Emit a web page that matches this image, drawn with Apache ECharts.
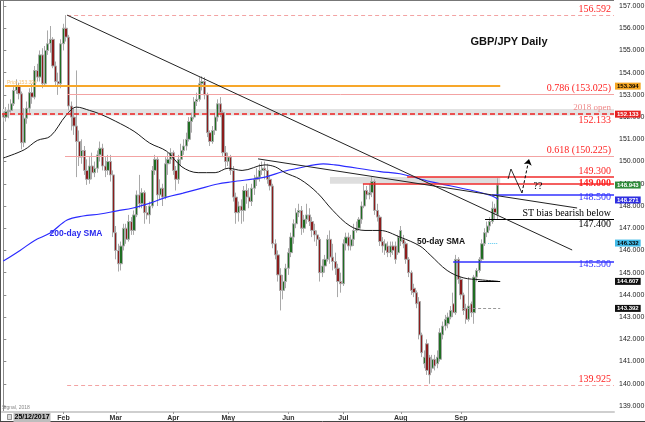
<!DOCTYPE html>
<html><head><meta charset="utf-8">
<script src="https://cdn.jsdelivr.net/npm/echarts/dist/echarts.min.js"></script>
<style>html,body{margin:0;padding:0;background:#fff}#c{width:645px;height:422px}</style>
</head><body><div id="c"></div>
<script>
// ---- data ----
const startDate = '2018-01-01';
const totalSlots = 234;
const monthNames = ['Jan','Feb','Mar','Apr','May','Jun','Jul','Aug','Sep','Oct','Nov','Dec'];
// [open, close, low, high]
const candles = [
[152.10,152.00,151.80,152.25],[152.00,152.25,151.80,152.45],[152.25,152.30,151.95,152.60],[152.30,152.60,152.20,152.80],
[152.60,153.20,152.50,153.45],[153.20,153.40,153.05,153.70],[153.40,153.05,152.80,153.55],[153.05,150.85,150.55,153.15],
[150.85,151.95,150.65,152.40],[151.95,152.40,151.70,152.70],[152.40,153.10,152.20,153.30],[153.10,152.90,152.60,153.50],
[152.90,154.10,152.80,154.30],[154.10,153.80,153.60,154.40],[153.80,154.80,153.60,155.00],[154.80,153.50,153.30,155.10],
[153.50,155.00,153.40,155.20],[155.00,155.30,154.80,155.90],[155.30,155.50,154.90,156.10],[155.50,154.30,154.20,155.60],
[154.30,153.60,153.40,154.50],[153.60,153.50,153.00,154.00],[153.50,155.30,153.30,155.50],[155.30,156.00,155.00,156.20],
[156.00,155.60,155.40,156.59],[155.60,152.50,152.30,155.70],[152.50,152.00,151.40,152.70],[152.00,151.60,151.20,152.40],
[151.60,150.90,149.30,154.10],[150.90,150.20,149.80,151.40],[150.20,150.50,149.90,151.00],[150.50,149.60,149.40,150.70],
[149.60,149.20,148.95,150.10],[149.20,149.80,149.00,150.20],[149.80,149.50,149.20,150.40],[149.50,149.70,149.30,150.00],
[149.70,150.30,149.50,150.50],[150.30,150.60,150.00,150.90],[150.60,149.80,149.60,150.80],[149.80,149.60,149.30,150.20],
[149.60,150.00,149.40,150.30],[150.00,149.40,149.10,150.30],[149.40,146.80,146.60,149.60],[146.80,146.00,145.60,147.10],
[146.00,145.40,145.05,146.30],[145.40,146.20,145.10,146.40],[146.20,147.00,146.00,147.20],[147.00,146.50,146.30,147.20],
[146.50,147.30,146.40,147.60],[147.30,146.90,146.70,147.50],[146.90,147.60,146.70,147.80],[147.60,148.50,147.50,148.70],
[148.50,148.10,147.90,149.40],[148.10,148.60,147.90,148.80],[148.60,147.70,147.20,148.70],[147.70,147.60,147.40,148.00],
[147.60,148.00,147.20,148.20],[148.00,149.60,147.90,149.80],[149.60,150.10,149.40,150.30],[150.10,148.50,148.00,150.20],
[148.50,148.80,148.30,149.20],[148.80,148.40,148.00,149.00],[148.40,149.90,148.30,150.20],[149.90,150.10,149.40,150.40],
[150.10,150.40,149.90,150.60],[150.40,149.60,149.40,150.50],[149.60,149.20,148.70,149.80],[149.20,150.10,149.00,150.30],
[150.10,150.50,149.80,150.80],[150.50,150.70,150.30,151.00],[150.70,151.00,150.50,151.30],[151.00,151.80,150.90,152.00],
[151.80,152.00,151.30,152.20],[152.00,152.70,151.90,152.90],[152.70,152.80,152.50,153.10],[152.80,153.50,152.70,153.80],
[153.50,153.60,153.20,153.84],[153.60,153.00,152.80,153.80],[153.00,151.30,151.10,153.10],[151.30,150.90,150.70,151.40],
[150.90,151.40,150.80,151.60],[151.40,152.00,151.20,152.20],[152.00,152.60,151.80,152.80],[152.60,152.20,152.00,152.90],
[152.20,150.40,150.20,152.30],[150.40,150.00,149.70,150.70],[150.00,150.20,149.80,150.40],[150.20,149.60,149.40,150.30],
[149.60,148.40,148.20,149.80],[148.40,147.70,147.20,148.60],[147.70,148.00,147.30,148.20],[148.00,147.80,147.20,148.30],
[147.80,148.70,147.30,148.90],[148.70,148.40,148.10,149.00],[148.40,148.20,147.90,148.80],[148.20,148.80,148.00,149.00],
[148.80,149.20,148.50,149.40],[149.20,149.30,148.90,149.70],[149.30,149.60,149.10,149.90],[149.60,149.70,149.40,150.00],
[149.70,149.60,149.20,150.00],[149.60,149.20,149.00,149.90],[149.20,148.90,148.70,149.40],[148.90,146.30,146.10,149.00],
[146.30,145.80,145.60,146.50],[145.80,144.90,144.60,146.00],[144.90,144.20,143.30,145.20],[144.20,144.60,143.80,144.90],
[144.60,145.20,144.30,145.40],[145.20,145.90,144.90,146.10],[145.90,146.60,145.70,146.80],[146.60,147.20,146.30,147.40],
[147.20,147.70,147.00,147.90],[147.70,147.80,147.50,148.10],[147.80,147.00,146.70,148.00],[147.00,147.40,146.80,147.60],
[147.40,147.60,147.20,148.10],[147.60,147.30,147.10,147.90],[147.30,146.90,146.60,147.50],[146.90,146.70,146.40,147.20],
[146.70,146.50,146.20,146.90],[146.50,145.00,144.60,146.60],[145.00,145.30,144.80,145.60],[145.30,145.60,145.00,145.80],
[145.60,146.50,145.50,146.70],[146.50,145.70,145.40,146.90],[145.70,145.50,145.10,146.30],[145.50,145.20,144.90,145.90],
[145.20,144.60,143.90,145.40],[144.60,144.50,144.10,145.00],[144.50,146.30,144.40,146.50],[146.30,146.60,146.00,146.80],
[146.60,146.20,146.00,146.80],[146.20,146.50,146.00,146.70],[146.50,146.90,146.20,147.20],[146.90,147.00,146.80,147.30],
[147.00,147.40,146.90,147.50],[147.40,148.00,147.20,148.20],[148.00,148.70,147.90,149.00],[148.70,148.50,148.30,148.90],
[148.50,148.60,148.30,149.00],[148.60,149.10,148.40,149.30],[149.10,147.80,147.60,149.20],[147.80,147.50,147.30,148.10],
[147.50,146.40,146.20,147.60],[146.40,146.20,145.90,146.60],[146.00,146.30,145.80,146.50],[146.20,145.90,145.70,146.40],
[145.90,146.20,145.70,146.40],[146.20,146.00,145.80,146.40],[146.20,145.60,145.40,146.40],[145.90,146.60,145.80,146.70],
[146.40,146.90,146.20,147.10],[146.50,146.30,146.10,146.70],[146.30,145.60,145.40,146.40],[145.60,145.00,144.80,145.70],
[145.00,144.20,144.00,145.10],[144.30,144.10,143.90,144.50],[144.10,143.60,143.40,144.20],[143.70,142.20,142.00,143.90],
[142.20,141.40,141.20,142.30],[140.90,141.20,140.70,141.50],[141.80,140.60,140.40,142.00],[141.20,140.40,140.00,141.30],
[140.70,141.10,140.50,141.30],[141.10,140.80,140.60,141.30],[140.90,141.20,140.70,141.50],[141.10,142.30,141.00,142.50],
[142.20,142.60,142.00,142.80],[142.60,142.90,142.40,143.10],[142.70,143.00,142.50,143.20],[143.00,143.30,142.90,143.50],
[143.60,143.20,143.00,144.10],[143.20,145.60,143.10,145.80],[145.60,144.70,144.50,145.70],[144.70,144.00,143.80,144.80],
[144.00,143.30,143.10,144.10],[143.40,142.90,142.70,143.60],[142.90,143.50,142.80,144.80],[143.60,143.20,143.00,143.70],
[143.20,144.80,142.70,144.90],[144.80,145.10,144.60,145.20],[145.10,145.60,145.00,145.70],[145.60,146.30,145.50,146.50],
[146.30,146.80,146.20,147.00],[146.80,147.10,146.60,147.30],[147.10,147.30,146.90,147.50],[147.30,147.90,147.20,148.20],
[147.90,147.70,147.40,148.10],[147.60,148.943,147.40,149.25]
];
// [slot index, value]
const sma50 = [[0,150.16],[8,150.53],[13,150.95],[18,151.14],[24,152.08],[28,152.45],[33,152.30],[37,152.14],[43,151.81],[50,151.36],[56,150.83],[62.5,150.46],[68.3,149.76],[74.5,149.5],[81,149.5],[86,149.7],[91.3,149.6],[100,149.85],[104,149.76],[107.7,149.5],[113.5,149.2],[120,148.6],[126,147.8],[132.6,147.1],[138.3,146.9],[144,146.9],[151.7,146.6],[159.3,146.2],[163.2,145.8],[169.7,145.1],[175.8,144.77],[182.3,144.68],[189.2,144.61]];
const sma200 = [[0,145.52],[6.4,146.0],[12,146.45],[17.9,146.78],[24.4,147.37],[30.5,147.55],[37,147.64],[43.5,147.78],[49.6,147.91],[56.1,148.13],[62.5,148.4],[68.7,148.58],[74.5,148.76],[82,148.99],[87.5,149.09],[100.1,149.3],[106.6,149.54],[112.7,149.7],[122.3,149.9],[126.8,149.85],[144.1,149.55],[151.7,149.45],[163.2,149.1],[178.5,148.72],[186.9,148.45],[189.2,148.3]];
const trend1 = [[24.4,156.59],[217.5,146.02]];
const trend2 = [[97.4,150.12],[219.4,147.91]];
const scenarioPath = [[193,149.215],[194.1,149.665],[198.3,148.585]];
const scenarioArrow = [[198.3,148.585],[201,150.115]];
const peakLevel = 156.592, priorLevel = 153.394, fib786 = 153.025, open2018 = 152.133, fib618 = 150.225;
const res1 = 149.3, res2 = 149.0, sup1 = 148.5, stBias = 147.4, minorLevel = 146.332, sup2 = 145.5;
const sma50Now = 144.607, swingLevel = 143.392, lowLevel = 139.925;
const tagValues = [153.394,152.133,148.943,148.271,146.332,144.607,143.392];
const tagColors = [['#f5a623','#000'],['#e52222','#fff'],['#2e8b3a','#fff'],['#2f2fe0','#fff'],['#44bbe8','#000'],['#111','#fff'],['#111','#fff']];

// ---- build ----
const categories = [];
{ const d = new Date(startDate + 'T00:00:00Z');
  while (categories.length < totalSlots) { const w = d.getUTCDay(); if (w !== 0 && w !== 6) categories.push(d.toISOString().slice(0,10)); d.setUTCDate(d.getUTCDate()+1); } }
const isMonthStart = i => i > 0 && i < candles.length && categories[i].slice(5,7) !== categories[i-1].slice(5,7);

const END = totalSlots - 0.5;
const red = '#ff2222', lightRed = '#f3a3a3', blue = '#3232ff', orange = '#f7a72a';
const serif = {fontFamily:'Liberation Serif', fontSize:10};
function hl(v, x1, x2, ls, label) {
  return [{coord:[x1, v], lineStyle: Object.assign({type:'solid'}, ls), label: label ? Object.assign({show:true}, serif, label) : {show:false}}, {coord:[x2, v]}];
}
const none = {width:0.01, color:'rgba(255,255,255,0)'};
const levelLines = [
  hl(peakLevel, 24.4, END, {color:lightRed, type:[4,3], width:1}, {position:'insideEndTop', formatter:'156.592', color:red, distance:[3,1]}),
  hl(priorLevel, 0.6, 190, {color:orange, width:2}, {position:'insideStartTop', formatter:'Prior 153.394', color:'#f6c070', fontSize:5, fontFamily:'Liberation Sans', distance:[2,1]}),
  hl(fib786, 24.4, END, {color:lightRed, width:1}, {position:'insideEndTop', formatter:'0.786 (153.025)', color:red, distance:[3,1]}),
  hl(open2018, -0.5, END, {color:'#ee2222', type:[5,3], width:1.5}, {position:'insideEndTop', formatter:'2018 open', color:'#f08a8a', fontSize:9, distance:[3,2]}),
  hl(open2018, -0.5, END, none, {position:'insideEndBottom', formatter:'152.133', color:red, distance:[3,1]}),
  hl(fib618, 23.6, END, {color:lightRed, width:1}, {position:'insideEndTop', formatter:'0.618 (150.225)', color:red, distance:[3,1]}),
  hl(res1, 154.4, END, {color:'#f02a2a', width:1.5}, {position:'insideEndTop', formatter:'149.300', color:red, distance:[3,1]}),
  hl(res2, 137.5, END, {color:'#f02a2a', width:1.5}, {position:'insideEnd', formatter:'149.000', color:red, fontWeight:'bold', distance:3}),
  hl(sup1, 186.9, END, {color:blue, width:1.5}, {position:'insideEnd', formatter:'148.500', color:blue, distance:3, offset:[0,2]}),
  hl(stBias, 184.2, END, {color:'#000', width:1}, {position:'insideEndTop', formatter:'ST bias bearish below', color:'#000', distance:[3,1]}),
  hl(stBias, 184.2, END, none, {position:'insideEndBottom', formatter:'147.400', color:'#000', distance:[3,0]}),
  hl(minorLevel, 185.4, 189.2, {color:'#55c8f0', type:[1,1], width:1}),
  hl(sup2, 172, END, {color:blue, width:1.5}, {position:'insideEnd', formatter:'145.500', color:blue, distance:3, offset:[0,3]}),
  hl(sma50Now, 181.5, 190, {color:'#000', width:1}),
  hl(swingLevel, 175.8, 190, {color:'#999', type:[3,2], width:1}),
  hl(lowLevel, 24.4, END, {color:lightRed, type:[4,3], width:1}, {position:'insideEndTop', formatter:'139.925', color:red, distance:[3,1]}),
  [{coord:trend1[0], lineStyle:{color:'#222', width:1, type:'solid'}, label:{show:false}}, {coord:trend1[1]}],
  [{coord:trend2[0], lineStyle:{color:'#222', width:1, type:'solid'}, label:{show:false}}, {coord:trend2[1]}],
  [{coord:scenarioArrow[0], symbol:'none', lineStyle:{color:'#000', type:[3,2], width:1}, label:{show:false}}, {coord:scenarioArrow[1], symbol:'arrow', symbolSize:6}]
];
tagValues.forEach((v, k) => {
  levelLines.push([{coord:[END-0.5, v], lineStyle: none, label:{show:true, position:'end', distance:1, formatter: v.toFixed(3),
    backgroundColor: tagColors[k][0], color: tagColors[k][1], fontSize:6, fontFamily:'Liberation Sans', fontWeight:'bold', padding:[1,2,0,2], lineHeight:6}}, {coord:[END, v]}]);
});

const chart = echarts.init(document.getElementById('c'), null, {renderer:'canvas'});
chart.setOption({
  animation: false,
  backgroundColor: '#fff',
  grid: {left:2, right:31, top:1, bottom:10, outerBoundsMode:'none', containLabel:false},
  xAxis: [
    {type:'category', data:categories, boundaryGap:true,
     axisLine:{show:true, lineStyle:{color:'#cfcfcf', width:2}},
     axisTick:{show:true, alignWithLabel:true, interval:(i)=>isMonthStart(i), length:2, lineStyle:{color:'#999'}},
     axisLabel:{interval:(i)=>isMonthStart(i), formatter:(v)=>monthNames[+v.slice(5,7)-1], fontSize:7, fontWeight:'bold', color:'#333', margin:3, fontFamily:'Liberation Sans'},
     splitLine:{show:false}},
    {type:'value', min:-0.5, max:END, show:false}
  ],
  yAxis: {type:'value', position:'right', min:138.73, max:157.225, splitNumber:18,
    axisLine:{show:true, lineStyle:{color:'#8a8a8a'}},
    axisTick:{show:true, length:3, lineStyle:{color:'#8a8a8a'}},
    axisLabel:{fontSize:7, color:'#222', margin:5, fontFamily:'Liberation Sans', showMinLabel:false, showMaxLabel:false,
      formatter:(v)=> Math.abs(v-Math.round(v))<1e-6 ? v.toFixed(3) : ''},
    splitLine:{show:false}},
  series: [
    {type:'line', xAxisIndex:1, data:[], clip:false, silent:true, z:1,
     markArea:{silent:true, data:[
       [{coord:[-0.5,152.36], itemStyle:{color:'#e2e2e2'}}, {coord:[END,152.07]}],
       [{coord:[124.9,149.3], itemStyle:{color:'#dedede'}}, {coord:[190,149.0]}]
     ]},
     markLine:{silent:true, symbol:['none','none'], animation:false, data:levelLines}},
    {type:'candlestick', xAxisIndex:0, yAxisIndex:0, data:candles, barWidth:2.7, z:3,
     itemStyle:{color:'#1f6e22', color0:'#8c1c1c', borderColor:'#a9a9a9', borderColor0:'#a9a9a9', borderWidth:1}},
    {type:'line', xAxisIndex:1, data:sma200, smooth:0.35, showSymbol:false, symbol:'none', z:4, lineStyle:{color:'#2b2bff', width:1.2}},
    {type:'line', xAxisIndex:1, data:sma50, smooth:0.35, showSymbol:false, symbol:'none', z:4, lineStyle:{color:'#1a1a1a', width:1}},
    {type:'line', xAxisIndex:1, data:scenarioPath, showSymbol:false, symbol:'none', z:5, lineStyle:{color:'#000', width:0.8}}
  ],
  graphic: [
    {type:'line', z:100, shape:{x1:0.5,y1:0,x2:0.5,y2:422}, style:{stroke:'#555', lineWidth:1}},
    {type:'line', z:100, shape:{x1:0,y1:0.5,x2:614,y2:0.5}, style:{stroke:'#777', lineWidth:1}},
    {type:'line', z:100, shape:{x1:0,y1:421.5,x2:645,y2:421.5}, style:{stroke:'#444', lineWidth:1}},
    {type:'text', z:100, x:509, y:41.5, style:{text:'GBP/JPY Daily', font:'bold 11px "Liberation Sans"', fill:'#111', align:'center', verticalAlign:'middle'}},
    {type:'text', z:100, x:76, y:233.5, style:{text:'200-day SMA', font:'bold 8.5px "Liberation Sans"', fill:'#2a2aee', align:'center', verticalAlign:'middle'}},
    {type:'text', z:100, x:441, y:242, style:{text:'50-day SMA', font:'bold 8.5px "Liberation Sans"', fill:'#111', align:'center', verticalAlign:'middle'}},
    {type:'text', z:100, x:538, y:186, style:{text:'??', font:'10px "Liberation Serif"', fill:'#000', align:'center', verticalAlign:'middle'}},
    {type:'text', z:100, x:2, y:408, style:{text:'Signal, 2018', font:'5px "Liberation Sans"', fill:'#888', verticalAlign:'middle'}},
    {type:'rect', z:100, shape:{x:7.5,y:414.5,width:4,height:5}, style:{fill:'#ddd', stroke:'#555', lineWidth:0.6}},
    {type:'text', z:100, x:13.5, y:417.5, style:{text:'25/12/2017', font:'bold 7px "Liberation Sans"', fill:'#000', backgroundColor:'#bdbdbd', padding:[1,1], verticalAlign:'middle'}}
  ]
});
</script></body></html>
